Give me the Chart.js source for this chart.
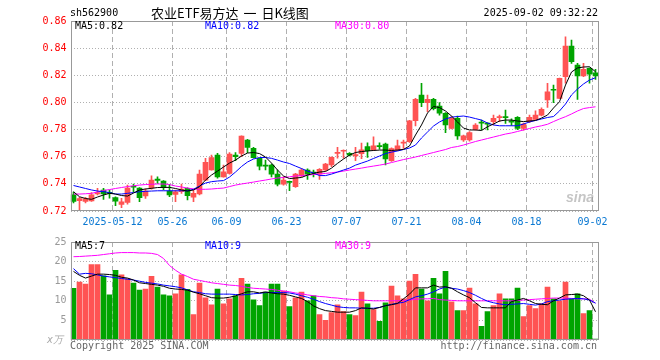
<!DOCTYPE html>
<html><head><meta charset="utf-8">
<script src="https://cdn.jsdelivr.net/npm/chart.js@4.4.1/dist/chart.umd.min.js"></script>
<style>
html,body{margin:0;padding:0;background:#fff;}
#wrap{position:relative;width:660px;height:360px;overflow:hidden;background:#fff;}
canvas{position:absolute;left:0;}
.t{position:absolute;font-family:"DejaVu Sans Mono",monospace;font-size:10px;line-height:12px;white-space:pre;}
</style></head><body>
<div id="wrap">
<canvas id="c1" width="660" height="232" style="top:0;width:660px;height:232px"></canvas>
<canvas id="c2" width="660" height="128" style="top:232px;width:660px;height:128px"></canvas>
<span class="t" style="left:70px;top:7px;color:#000">sh562900</span>
<span class="t" id="title" style="left:151px;top:5px;font-family:'Noto Sans CJK SC',sans-serif;font-size:13px;line-height:16px;word-spacing:2px;color:#000">农业ETF易方达 一 日K线图</span>
<span class="t" style="right:62px;top:7px;color:#000">2025-09-02 09:32:22</span>
<span class="t" id="l5" style="left:75px;top:20px;color:#000"></span>
<span class="t" id="l10" style="left:205px;top:20px;color:#0000ff"></span>
<span class="t" id="l30" style="left:335px;top:20px;color:#ff00ff"></span>
<span class="t" id="v5" style="left:75px;top:240px;color:#000"></span>
<span class="t" id="v10" style="left:205px;top:240px;color:#0000ff"></span>
<span class="t" id="v30" style="left:335px;top:240px;color:#ff00ff"></span>
<span class="t" style="left:47px;top:334px;color:#aaa;font-style:italic">x万</span>
<span class="t" style="left:70px;top:340px;color:#666">Copyright 2025 SINA.COM</span>
<span class="t" style="right:63px;top:340px;color:#666">http://finance.sina.com.cn</span>
<span class="t" style="left:566px;top:191px;font-family:'Liberation Sans',sans-serif;font-size:14px;font-weight:bold;font-style:italic;color:rgba(150,150,150,0.55)">sina</span>
</div>
<script>
const dates = ['2025-04-28','2025-04-29','2025-04-30','2025-05-06','2025-05-07','2025-05-08','2025-05-09',
'2025-05-12','2025-05-13','2025-05-14','2025-05-15','2025-05-16','2025-05-19','2025-05-20','2025-05-21','2025-05-22','2025-05-23',
'2025-05-26','2025-05-27','2025-05-28','2025-05-29','2025-05-30','2025-06-03','2025-06-04','2025-06-05','2025-06-06',
'2025-06-09','2025-06-10','2025-06-11','2025-06-12','2025-06-13','2025-06-16','2025-06-17','2025-06-18','2025-06-19','2025-06-20',
'2025-06-23','2025-06-24','2025-06-25','2025-06-26','2025-06-27','2025-06-30','2025-07-01','2025-07-02','2025-07-03','2025-07-04',
'2025-07-07','2025-07-08','2025-07-09','2025-07-10','2025-07-11','2025-07-14','2025-07-15','2025-07-16','2025-07-17','2025-07-18',
'2025-07-21','2025-07-22','2025-07-23','2025-07-24','2025-07-25','2025-07-28','2025-07-29','2025-07-30','2025-07-31','2025-08-01',
'2025-08-04','2025-08-05','2025-08-06','2025-08-07','2025-08-08','2025-08-11','2025-08-12','2025-08-13','2025-08-14','2025-08-15',
'2025-08-18','2025-08-19','2025-08-20','2025-08-21','2025-08-22','2025-08-25','2025-08-26','2025-08-27','2025-08-28','2025-08-29',
'2025-09-01','2025-09-02'];

const open = [0.7320,0.7277,0.7270,0.7275,0.7325,0.7355,0.7335,0.7298,0.7249,0.7264,
0.7381,0.7369,0.7312,0.7370,0.7435,0.7421,0.7347,0.7323,0.7342,0.7367,
0.7301,0.7325,0.7428,0.7502,0.7612,0.7452,0.7477,0.7612,0.7625,0.7723,
0.7662,0.7588,0.7535,0.7539,0.7472,0.7397,0.7418,0.7379,0.7458,0.7502,
0.7485,0.7472,0.7502,0.7539,0.7625,0.7640,0.7625,0.7605,0.7622,0.7674,
0.7650,0.7678,0.7694,0.7570,0.7650,0.7700,0.7710,0.7865,0.8055,0.7998,
0.8023,0.7973,0.7920,0.7809,0.7883,0.7723,0.7723,0.7802,0.7853,0.7845,
0.7858,0.7888,0.7892,0.7865,0.7890,0.7809,0.7858,0.7875,0.7907,0.8018,
0.8095,0.8030,0.8190,0.8416,0.8276,0.8195,0.8251,0.8219];
const high = [0.7340,0.7300,0.7300,0.7335,0.7367,0.7367,0.7355,0.7305,0.7293,0.7391,
0.7398,0.7372,0.7364,0.7460,0.7452,0.7425,0.7396,0.7355,0.7398,0.7370,
0.7355,0.7502,0.7588,0.7612,0.7625,0.7539,0.7630,0.7630,0.7754,0.7728,
0.7670,0.7590,0.7576,0.7545,0.7502,0.7452,0.7420,0.7478,0.7512,0.7510,
0.7502,0.7512,0.7552,0.7600,0.7670,0.7650,0.7630,0.7670,0.7700,0.7703,
0.7747,0.7703,0.7700,0.7665,0.7723,0.7723,0.7868,0.8030,0.8141,0.8055,
0.8030,0.7998,0.7925,0.7895,0.7900,0.7760,0.7785,0.7845,0.7870,0.7850,
0.7907,0.7907,0.7944,0.7880,0.7895,0.7848,0.7907,0.7939,0.7960,0.8141,
0.8128,0.8180,0.8484,0.8460,0.8288,0.8288,0.8255,0.8244];
const low = [0.7260,0.7210,0.7260,0.7270,0.7318,0.7286,0.7295,0.7239,0.7224,0.7251,
0.7340,0.7268,0.7293,0.7360,0.7404,0.7355,0.7305,0.7268,0.7330,0.7281,
0.7268,0.7318,0.7425,0.7500,0.7441,0.7450,0.7472,0.7570,0.7600,0.7630,
0.7590,0.7502,0.7502,0.7452,0.7384,0.7391,0.7349,0.7374,0.7452,0.7433,
0.7452,0.7433,0.7495,0.7526,0.7590,0.7590,0.7605,0.7570,0.7585,0.7595,
0.7645,0.7655,0.7539,0.7565,0.7645,0.7662,0.7705,0.7826,0.7968,0.7932,
0.7944,0.7907,0.7777,0.7805,0.7728,0.7713,0.7715,0.7795,0.7797,0.7797,
0.7834,0.7858,0.7846,0.7830,0.7800,0.7795,0.7850,0.7870,0.7900,0.7964,
0.7998,0.8028,0.8141,0.8288,0.8023,0.8190,0.8141,0.8170];
const close = [0.7270,0.7292,0.7290,0.7320,0.7335,0.7325,0.7330,0.7273,0.7268,0.7369,
0.7375,0.7298,0.7347,0.7428,0.7425,0.7374,0.7318,0.7342,0.7362,0.7313,
0.7330,0.7472,0.7559,0.7593,0.7452,0.7489,0.7620,0.7600,0.7752,0.7669,
0.7593,0.7531,0.7531,0.7472,0.7397,0.7428,0.7410,0.7472,0.7502,0.7472,
0.7480,0.7507,0.7546,0.7595,0.7630,0.7645,0.7612,0.7615,0.7650,0.7645,
0.7680,0.7674,0.7583,0.7660,0.7680,0.7705,0.7865,0.8023,0.7998,0.8023,
0.7954,0.7920,0.7834,0.7883,0.7753,0.7753,0.7777,0.7834,0.7848,0.7840,
0.7883,0.7892,0.7888,0.7855,0.7809,0.7840,0.7890,0.7907,0.7949,0.8079,
0.8090,0.8178,0.8416,0.8300,0.8195,0.8244,0.8209,0.8195];

const ma5 = [0.7342,0.7305,0.7292,0.7286,0.7303,0.7318,0.7330,0.7325,0.7314,0.7310,
0.7332,0.7355,0.7362,0.7367,0.7373,0.7374,0.7374,0.7366,0.7355,0.7347,
0.7355,0.7379,0.7428,0.7465,0.7494,0.7524,0.7553,0.7575,0.7605,0.7627,
0.7631,0.7623,0.7598,0.7553,0.7502,0.7458,0.7439,0.7443,0.7447,0.7465,
0.7477,0.7487,0.7491,0.7516,0.7551,0.7583,0.7612,0.7631,0.7638,0.7642,
0.7646,0.7649,0.7649,0.7646,0.7649,0.7654,0.7679,0.7760,0.7834,0.7922,
0.7970,0.7962,0.7937,0.7900,0.7856,0.7811,0.7797,0.7797,0.7793,0.7821,
0.7841,0.7863,0.7870,0.7870,0.7863,0.7859,0.7863,0.7867,0.7885,0.7907,
0.7959,0.8005,0.8128,0.8224,0.8254,0.8261,0.8263,0.8226];
const ma10 = [0.7388,0.7377,0.7366,0.7355,0.7347,0.7342,0.7336,0.7325,0.7325,0.7330,
0.7336,0.7342,0.7345,0.7347,0.7349,0.7349,0.7349,0.7349,0.7349,0.7349,
0.7360,0.7384,0.7406,0.7416,0.7421,0.7424,0.7450,0.7487,0.7528,0.7561,
0.7583,0.7594,0.7594,0.7588,0.7575,0.7561,0.7550,0.7531,0.7513,0.7494,
0.7480,0.7461,0.7461,0.7472,0.7487,0.7502,0.7516,0.7538,0.7553,0.7568,
0.7587,0.7605,0.7623,0.7634,0.7642,0.7653,0.7664,0.7686,0.7738,0.7782,
0.7826,0.7856,0.7878,0.7892,0.7896,0.7900,0.7892,0.7881,0.7870,0.7848,
0.7834,0.7828,0.7828,0.7828,0.7828,0.7841,0.7856,0.7867,0.7878,0.7889,
0.7896,0.7937,0.7988,0.8055,0.8099,0.8136,0.8165,0.8182];
const ma30 = [0.7325,0.7325,0.7327,0.7330,0.7340,0.7351,0.7358,0.7366,0.7373,0.7380,
0.7386,0.7391,0.7395,0.7397,0.7399,0.7399,0.7395,0.7384,0.7377,0.7369,
0.7363,0.7360,0.7360,0.7362,0.7366,0.7369,0.7380,0.7391,0.7399,0.7406,
0.7413,0.7421,0.7428,0.7436,0.7443,0.7447,0.7452,0.7458,0.7461,0.7465,
0.7469,0.7472,0.7477,0.7482,0.7487,0.7494,0.7502,0.7509,0.7516,0.7524,
0.7531,0.7538,0.7546,0.7557,0.7568,0.7579,0.7588,0.7598,0.7609,0.7620,
0.7631,0.7642,0.7653,0.7668,0.7675,0.7686,0.7699,0.7712,0.7723,0.7734,
0.7745,0.7756,0.7767,0.7775,0.7786,0.7797,0.7808,0.7819,0.7828,0.7839,
0.7859,0.7878,0.7895,0.7915,0.7937,0.7955,0.7962,0.7968];

const volume = [13.2,14.75,14.25,19.25,19.25,16.4,11.5,17.75,16.6,15.6,
14.5,12.75,13,16.25,13.5,11.5,11.25,11.75,16.6,12.9,
6.5,14.5,10.75,9,13,9.25,10.5,11.25,15.75,14.25,
10.25,8.75,12.25,14.25,14.25,12.5,8.5,10.75,12.25,10,
11.25,6.5,5,7,9,7.25,6.5,6.25,12.25,9.25,
7.75,4.75,9.5,13.75,11.25,10.5,15,16.75,13,10,
15.75,11.75,17.5,9.75,7.5,7.5,13.25,9.25,3.5,7.25,
8.75,11.75,10.5,10.5,13.25,6,8.75,8,9.25,13.5,
10.5,10,14.75,10.5,11.75,6.75,7.5,0.25];
const volMa5 = [17.5,16.5,15.8,16.3,16.8,16.8,16.7,16.5,16,15.8,
15.3,14.6,14.4,14.2,14,13.7,13.2,13,12.9,12.7,
12.2,11.8,11.3,10.8,10.7,10.7,10.9,11.25,11.8,12.3,
12.3,12,12.25,12,11.8,11.7,11.4,11,10.6,9.8,
8.7,8,7.5,7.3,7.1,7.1,7.1,7.5,8.2,8.1,
7.9,8.3,8.75,9,9.3,10.5,11.7,13.3,13.3,13.3,
14,13.5,13.6,13.2,12.3,11.5,10.8,9.5,8.3,8.2,
8.2,8.2,8.2,9.8,10.2,10.6,10,9.3,9.1,9,
10,10.7,11.5,11.6,11.7,11.3,10.2,7.2];
const volMa10 = [18.2,16.8,17,16.9,16.6,16.3,16.1,15.9,15.7,15.5,
15.3,15,14.7,14.5,14.3,14,13.8,13.6,13.3,12.8,
12.3,12.1,11.8,11.7,11.7,11.7,11.7,11.6,11.5,11.6,
11.8,11.9,12.1,12.1,12.1,12.1,12,11.7,11.3,10.9,
10.4,9.8,9.3,8.9,8.5,8.3,8.2,8.2,8.1,8.1,
8.1,8.3,8.75,9.1,9.4,9.6,10.3,11,11.3,11.7,
12.3,13,13.5,13.2,13,12.6,12.1,11.4,10.6,9.9,
9.5,9.2,9,9.1,9.2,9.3,9.1,8.9,9.2,9.8,
10,10.2,10.4,10.5,10.6,10.5,10.2,9.4];
const volMa30 = [21.25,21.3,21.4,21.5,21.6,21.8,22,22.2,22.3,22.3,
22.3,22.2,22.2,22.1,21.8,20.8,19,17.8,16.8,16.2,
15.5,15.2,14.9,14.6,14.4,14.2,14,13.9,13.7,13.4,
13.2,13.1,13,12.9,12.7,12.5,12.3,12,11.8,11.5,
11.3,11.1,11,10.8,10.7,10.5,10.4,10.3,10.2,10.1,
10,10,10,10,10,10.1,10.2,10.4,10.5,10.5,
10.6,10.3,10.2,10.1,10,10,10,10,10,10,
10,10,10,10,10.1,10.2,10.3,10.4,10.5,10.6,
10.7,10.7,10.7,10.6,10.5,10.5,10.4,9.4];

const tickDates = ['2025-05-12','2025-05-26','2025-06-09','2025-06-23','2025-07-07','2025-07-21','2025-08-04','2025-08-18','2025-09-02'];
const tickLabels = ['2025-05-12','05-26','06-09','06-23','07-07','07-21','08-04','08-18','09-02'];
const priceTicks = [0.72,0.74,0.76,0.78,0.80,0.82,0.84,0.86];
const volTicks = [0,5,10,15,20,25];

const UP='#ff5353', DOWN='#00a400';
const tickIdx = tickDates.map(d=>dates.indexOf(d));
const candleColors = dates.map((d,i)=> close[i]>=open[i]?UP:DOWN);
const monoFont = {family:'DejaVu Sans Mono', size:10};

const framePlugin = {id:'frame', afterDraw(chart){
  const a=chart.chartArea, c=chart.ctx; c.save(); c.strokeStyle='#999'; c.lineWidth=1;
  c.strokeRect(Math.round(a.left)+0.5, Math.round(a.top)+0.5, Math.round(a.right-a.left)-1, Math.round(a.bottom-a.top)-1);
  c.restore();
}};

function xScale(showLabels, h){
  return {type:'category', offset:true,
    grid:{offset:true, drawTicks:false, lineWidth:1,
      color:c=> tickIdx.includes(c.index)?'#b0b0b0':'rgba(0,0,0,0)'},
    border:{display:false, dash:[5,3]},
    ticks:{display:showLabels, autoSkip:false, maxRotation:0, minRotation:0, color:'#0a78d2', font:monoFont, padding:5, labelOffset:-3,
      callback:(v,i)=>{const k=tickIdx.indexOf(i); return k>=0?tickLabels[k]:'';}},
    afterFit:s=>{s.height=h;}
  };
}

new Chart(document.getElementById('c1'), {
  data:{labels:dates, datasets:[
    {type:'line', data:ma5, borderColor:'#000000', borderWidth:1, pointRadius:0, tension:0, order:0},
    {type:'line', data:ma10, borderColor:'#0000ff', borderWidth:1, pointRadius:0, tension:0, order:0},
    {type:'line', data:ma30, borderColor:'#ff00ff', borderWidth:1, pointRadius:0, tension:0, order:0},
    {type:'bar', data:dates.map((d,i)=>[open[i],close[i]]), backgroundColor:candleColors, barThickness:5, grouped:false, minBarLength:1, order:2},
    {type:'bar', data:dates.map((d,i)=>[low[i],high[i]]), backgroundColor:candleColors, barThickness:1, grouped:false, order:3}
  ]},
  options:{responsive:false, animation:false, events:[],
    layout:{padding:{left:0,right:61.5,top:21,bottom:0}},
    plugins:{legend:{display:false}, tooltip:{enabled:false}},
    scales:{
      x:xScale(true,21),
      y:{type:'linear', min:0.72, max:0.86,
        afterBuildTicks:s=>{s.ticks=priceTicks.map(v=>({value:v}));},
        grid:{drawTicks:false, color:'#b0b0b0', lineWidth:1},
        border:{display:false, dash:[1,2]},
        ticks:{color:'#ff0000', font:monoFont, padding:4, callback:v=>Number(v).toFixed(2)},
        afterFit:s=>{s.width=70.5;}}
    }},
  plugins:[framePlugin]
});

new Chart(document.getElementById('c2'), {
  data:{labels:dates, datasets:[
    {type:'line', data:volMa5, borderColor:'#000000', borderWidth:1, pointRadius:0, tension:0, order:0},
    {type:'line', data:volMa10, borderColor:'#0000ff', borderWidth:1, pointRadius:0, tension:0, order:0},
    {type:'line', data:volMa30, borderColor:'#ff00ff', borderWidth:1, pointRadius:0, tension:0, order:0},
    {type:'bar', data:volume, backgroundColor:candleColors, barThickness:5, grouped:false, order:2}
  ]},
  options:{responsive:false, animation:false, events:[],
    layout:{padding:{left:0,right:61.5,top:8,bottom:0}},
    plugins:{legend:{display:false}, tooltip:{enabled:false}},
    scales:{
      x:xScale(false,20),
      y:{type:'linear', min:0, max:25,
        afterBuildTicks:s=>{s.ticks=volTicks.map(v=>({value:v}));},
        grid:{drawTicks:false, color:'#b0b0b0', lineWidth:1},
        border:{display:false, dash:[1,2]},
        ticks:{color:'#999999', font:monoFont, padding:4, callback:v=> v===0?'':String(v)},
        afterFit:s=>{s.width=70.5;}}
    }},
  plugins:[framePlugin]
});

const L = a=>a[a.length-1];
document.getElementById('l5').textContent='MA5:'+L(ma5).toFixed(2);
document.getElementById('l10').textContent='MA10:'+L(ma10).toFixed(2);
document.getElementById('l30').textContent='MA30:'+L(ma30).toFixed(2);
document.getElementById('v5').textContent='MA5:'+Math.round(L(volMa5));
document.getElementById('v10').textContent='MA10:'+Math.round(L(volMa10));
document.getElementById('v30').textContent='MA30:'+Math.round(L(volMa30));
</script>
</body></html>
